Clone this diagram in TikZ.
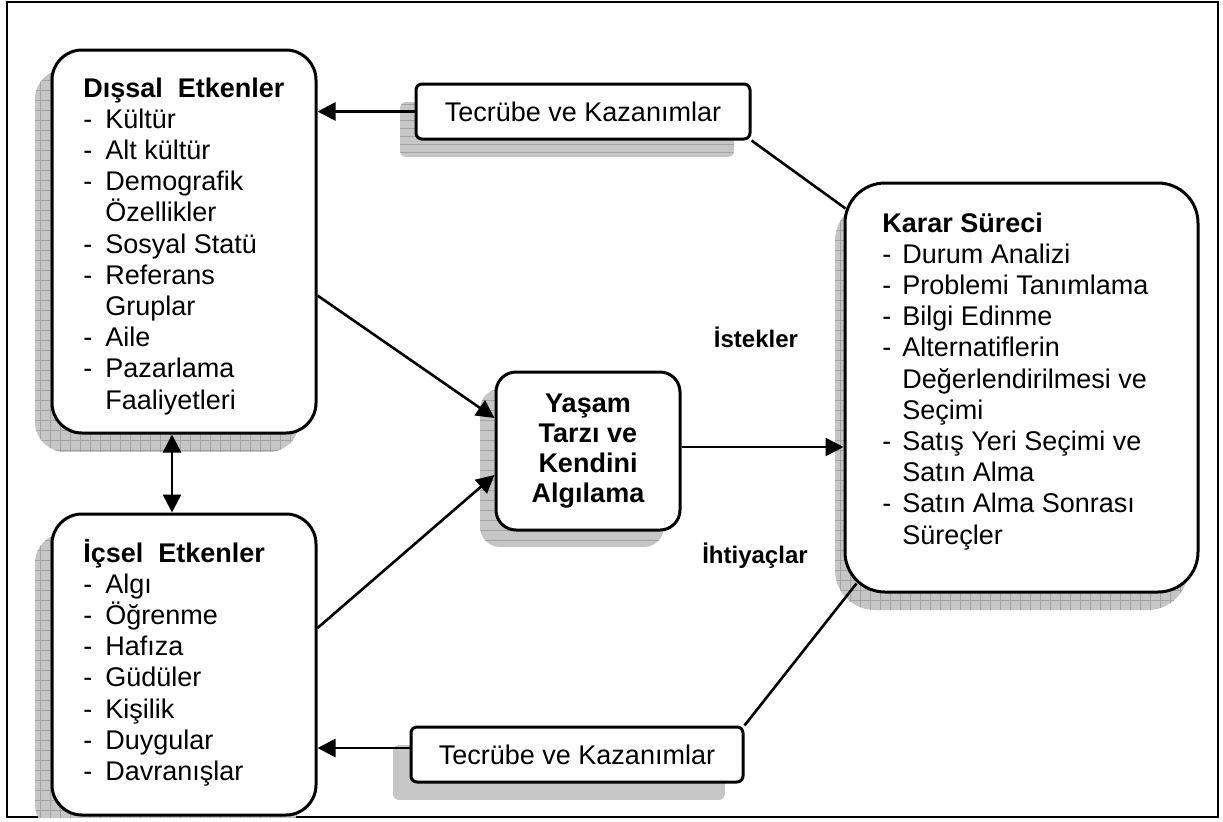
\documentclass[tikz,border=0pt]{standalone}
\usepackage{fontspec}
\setmainfont{Liberation Sans}
\usetikzlibrary{arrows.meta,calc}

\definecolor{shadefill}{HTML}{C6C6C6}
\definecolor{shadeline}{HTML}{A2A2A2}

% list lines: a dash followed by the entry, or an indented continuation
\newcommand\dashitem[2][11pt]{\makebox[#1][l]{-}#2}
\newcommand\contline[2][11pt]{\hspace*{#1}#2}

% drop shadow behind a box, clipped to the frame
% #1 corner radius, #2/#3 opposite corners, #4 hatch options
\newcommand\boxshadow[4]{%
  \begin{scope}
    \clip (7,2) rectangle (1218,817);
    \clip[rounded corners=#1] #2 rectangle #3;
    \fill[shadefill] #2 rectangle #3;
    \draw[shadeline, line width=0.4pt, #4] #2 grid #3;
  \end{scope}}

\begin{document}
\begin{tikzpicture}[x=0.5pt,y=-0.5pt,
  roundbox/.style={draw, line width=1.5pt, fill=white, inner sep=0pt},
  conn/.style={line width=1.3pt},
  arr/.style={conn, -{Triangle[length=9pt,width=9pt]}},
  darr/.style={conn, {Triangle[length=9pt,width=9pt]}-{Triangle[length=9pt,width=9pt]}},
  bodyfont/.style={font=\fontsize{13.5}{15.6}\selectfont},
  headfont/.style={font=\bfseries\fontsize{13.5}{15}\selectfont},
  tagfont/.style={font=\bfseries\fontsize{12}{14}\selectfont}]
\useasboundingbox (0,0) rectangle (1223,821);

% outer frame
\draw[line width=1pt] (7,2) rectangle (1218,817);

% shadows
\boxshadow{15pt}{(35,69)}{(299,452)}{step=5pt}
\boxshadow{15pt}{(35,533)}{(299,834)}{step=5pt}
\boxshadow{10pt}{(480,389)}{(664,547)}{xstep=2000pt,ystep=5pt}
\boxshadow{20pt}{(835,201)}{(1188,610)}{step=5pt}
\boxshadow{3pt}{(400,102)}{(734,157)}{xstep=2000pt,ystep=4pt}
\boxshadow{3pt}{(393,745)}{(725,800)}{xstep=2000pt,ystep=2000pt}

% boxes
\node[roundbox, rounded corners=15pt, minimum width=132pt, minimum height=191.5pt] (ext) at (184,241.5) {};
\node[roundbox, rounded corners=15pt, minimum width=132pt, minimum height=150.5pt] (int) at (184,664.5) {};
\node[roundbox, rounded corners=10pt, minimum width=92pt, minimum height=79pt, align=center, headfont] (life) at (588,451) {Yaşam\\Tarzı ve\\Kendini\\Algılama};
\node[roundbox, rounded corners=20pt, minimum width=176.5pt, minimum height=204.5pt] (dec) at (1021.5,387.5) {};
\node[roundbox, rounded corners=3pt, minimum width=167pt, minimum height=27.5pt, bodyfont] (expA) at (583,111.5) {Tecrübe ve Kazanımlar};
\node[roundbox, rounded corners=3pt, minimum width=166pt, minimum height=27.5pt, bodyfont] (expB) at (577,754.5) {Tecrübe ve Kazanımlar};

% connectors
\draw[arr] (expA.west) -- (expA.west -| ext.east);
\draw[conn] (expA.south east) -- ($(dec.north west)+(2,27)$);
\draw[arr] ([yshift=-27pt]ext.east) -- ([yshift=16.5pt]life.west);
\draw[arr] ([yshift=18.25pt]int.east) -- ([yshift=-12pt]life.west);
\draw[arr] ([yshift=2pt]life.east) -- ([yshift=2pt]life.east -| dec.west);
\draw[conn] ($(dec.south west)+(13,-10)$) -- (expB.north east);
\draw[arr] ([yshift=3.25pt]expB.west) -- ([yshift=3.25pt]expB.west -| int.east);
\draw[darr] ([xshift=-6pt]ext.south) -- ([xshift=-6pt]int.north);

% box contents
\node[anchor=base west, inner sep=0pt, bodyfont] (extlist) at (83,97) {\parbox[t]{125pt}{\raggedright
  \textbf{Dışsal~~Etkenler}\\
  \dashitem{Kültür}\\
  \dashitem{Alt kültür}\\
  \dashitem{Demografik}\\
  \contline{Özellikler}\\
  \dashitem{Sosyal Statü}\\
  \dashitem{Referans}\\
  \contline{Gruplar}\\
  \dashitem{Aile}\\
  \dashitem{Pazarlama}\\
  \contline{Faaliyetleri}}};

\node[anchor=base west, inner sep=0pt, bodyfont] (intlist) at (83,562) {\parbox[t]{125pt}{\raggedright
  \textbf{İçsel~~Etkenler}\\
  \dashitem{Algı}\\
  \dashitem{Öğrenme}\\
  \dashitem{Hafıza}\\
  \dashitem{Güdüler}\\
  \dashitem{Kişilik}\\
  \dashitem{Duygular}\\
  \dashitem{Davranışlar}}};

\node[anchor=base west, inner sep=0pt, bodyfont] (declist) at (882,232) {\parbox[t]{155pt}{\raggedright
  \textbf{Karar Süreci}\\
  \dashitem[10pt]{Durum Analizi}\\
  \dashitem[10pt]{Problemi Tanımlama}\\
  \dashitem[10pt]{Bilgi Edinme}\\
  \dashitem[10pt]{Alternatiflerin}\\
  \contline[10pt]{Değerlendirilmesi ve}\\
  \contline[10pt]{Seçimi}\\
  \dashitem[10pt]{Satış Yeri Seçimi ve}\\
  \contline[10pt]{Satın Alma}\\
  \dashitem[10pt]{Satın Alma Sonrası}\\
  \contline[10pt]{Süreçler}}};

% connector tags
\node[anchor=base, tagfont] (wants) at (756,347) {İstekler};
\node[anchor=base, tagfont] (needs) at (755,563) {İhtiyaçlar};
\end{tikzpicture}
\end{document}
